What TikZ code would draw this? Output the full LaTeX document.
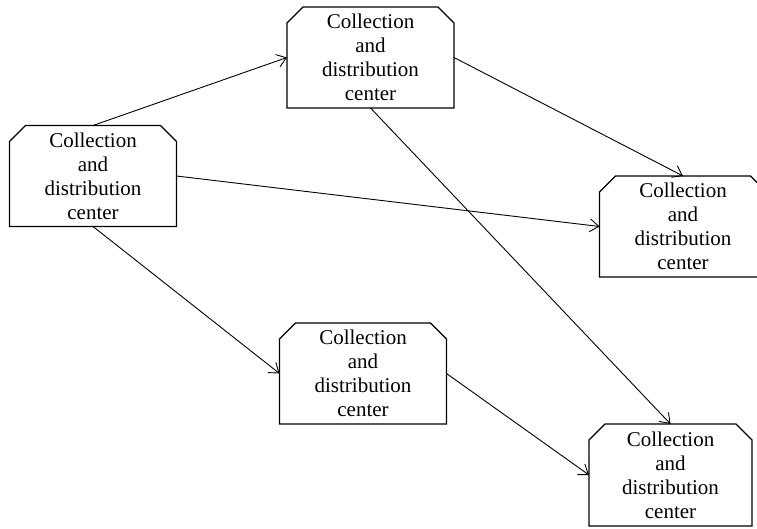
\documentclass[tikz,border=0pt]{standalone}
\usepackage{fontspec}
\setmainfont{Liberation Serif}
\usetikzlibrary{arrows.meta,calc}
\begin{document}
\begin{tikzpicture}[x=1pt,y=-1pt,
  cdc/.style={minimum width=167pt, minimum height=101pt, inner sep=0pt, outer sep=0pt,
    align=center, font=\fontsize{21}{24}\selectfont},
  boxline/.style={line width=1.2pt, line join=miter},
  arr/.style={-{Straight Barb[length=9pt,width=13pt,line width=0.9pt]}, line width=0.9pt}]
\useasboundingbox (0,0) rectangle (757,529);
\newcommand\chamf[1]{%
  \draw[boxline] (#1.south west) -- ($(#1.north west)+(0,16)$) -- ($(#1.north west)+(16,0)$)
    -- ($(#1.north east)+(-16,0)$) -- ($(#1.north east)+(0,16)$) -- (#1.south east) -- cycle;}
\node[cdc] (A) at (93,176) {Collection\\and\\distribution\\center};
\node[cdc] (B) at (370.5,57.5) {Collection\\and\\distribution\\center};
\node[cdc] (C) at (683,226.5) {Collection\\and\\distribution\\center};
\node[cdc] (D) at (363,373.5) {Collection\\and\\distribution\\center};
\node[cdc, minimum width=163pt, minimum height=102pt] (E) at (670.5,475) {Collection\\and\\distribution\\center};
\chamf{A}\chamf{B}\chamf{C}\chamf{D}\chamf{E}
\draw[arr] (A.north) -- (B.west);
\draw[arr] (B.east) -- (C.north);
\draw[arr] (A.east) -- (C.west);
\draw[arr] (B.south) -- (E.north);
\draw[arr] (A.south) -- (D.west);
\draw[arr] (D.east) -- (E.west);
\end{tikzpicture}
\end{document}
